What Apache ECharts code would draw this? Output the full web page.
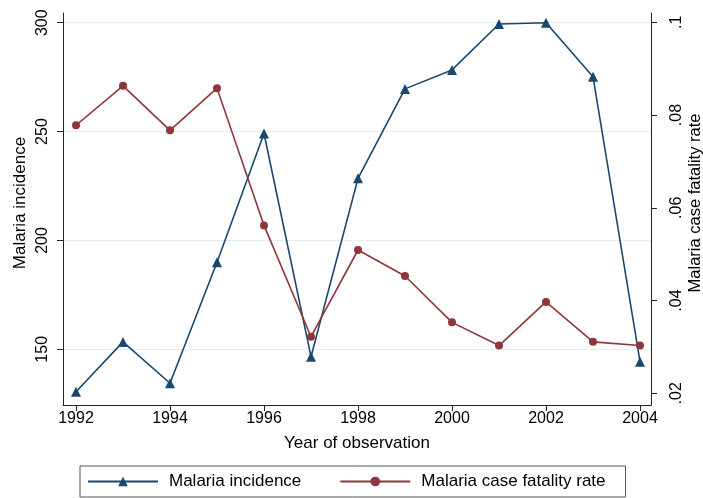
<!DOCTYPE html>
<html>
<head>
<meta charset="utf-8">
<script src="https://cdn.jsdelivr.net/npm/echarts@6/dist/echarts.min.js"></script>
<style>
html,body{margin:0;padding:0;background:#fff;}
#chart{width:703px;height:498px;}
</style>
</head>
<body>
<div id="chart"></div>
<script>
// Data
const years = [1992,1993,1994,1995,1996,1997,1998,1999,2000,2001,2002,2003,2004];
const malariaIncidence = [130.5,153.4,134.4,190.0,249.1,146.6,228.5,269.6,278.3,299.4,300.0,275.2,144.3];
const caseFatalityRate = [0.0778,0.0863,0.0767,0.0858,0.0562,0.0322,0.0509,0.0453,0.0353,0.0303,0.0397,0.0311,0.0303];
const xTicks = [1992,1994,1996,1998,2000,2002,2004];
const leftTicks = [150,200,250,300];
const rightTicks = [0.02,0.04,0.06,0.08,0.1];

const FONT = "'Liberation Sans', Arial, sans-serif";
const axisColor = '#222';

const chart = echarts.init(document.getElementById('chart'), null, {renderer:'canvas'});
chart.setOption({
  animation: false,
  backgroundColor: '#fff',
  textStyle: {fontFamily: FONT},
  grid: {left: 63, right: 52, top: 13, bottom: 93, containLabel: false, outerBoundsMode: 'none'},
  legend: {
    left: 80, top: 466,
    orient: 'horizontal',
    itemWidth: 70, itemHeight: 12, itemGap: 38,
    padding: [7, 20, 7, 7],
    borderColor: '#555', borderWidth: 1,
    textStyle: {fontSize: 17, color: '#000', fontFamily: FONT, padding: [0,0,0,6]},
    data: ['Malaria incidence', 'Malaria case fatality rate']
  },
  xAxis: {
    type: 'value',
    min: 1991.723, max: 2004.234,
    name: 'Year of observation',
    nameLocation: 'middle', nameGap: 30, nameMoveOverlap: false,
    nameTextStyle: {fontSize: 17, color: '#000', fontFamily: FONT},
    axisLine: {show: true, lineStyle: {color: axisColor, width: 1}},
    axisTick: {show: true, length: 6, lineStyle: {color: axisColor}, customValues: xTicks},
    axisLabel: {fontSize: 16, color: '#000', margin: 6, fontFamily: FONT, customValues: xTicks,
      formatter: v => String(v)},
    splitLine: {show: false}
  },
  yAxis: [
    {
      type: 'value', position: 'left',
      min: 124.42, max: 304.45,
      name: 'Malaria incidence', nameLocation: 'middle', nameGap: 34, nameRotate: 90, nameMoveOverlap: false,
      nameTextStyle: {fontSize: 17, color: '#000', fontFamily: FONT, padding: [0,0,0,12]},
      axisLine: {show: true, lineStyle: {color: axisColor, width: 1}},
      axisTick: {show: true, length: 6, lineStyle: {color: axisColor}, customValues: leftTicks},
      axisLabel: {rotate: 90, fontSize: 16, color: '#000', margin: 12, fontFamily: FONT, customValues: leftTicks},
      splitLine: {show: true, lineStyle: {color: '#e4edf1', width: 1.2}}
    },
    {
      type: 'value', position: 'right',
      min: 0.01748, max: 0.102,
      name: 'Malaria case fatality rate', nameLocation: 'middle', nameGap: 36, nameRotate: 90, nameMoveOverlap: false,
      nameTextStyle: {fontSize: 16.5, color: '#000', fontFamily: FONT, padding: [0,0,0,12]},
      axisLine: {show: true, lineStyle: {color: axisColor, width: 1}},
      axisTick: {show: true, length: 6, lineStyle: {color: axisColor}, customValues: rightTicks},
      axisLabel: {rotate: 90, fontSize: 16, color: '#000', margin: 18, fontFamily: FONT, customValues: rightTicks,
        formatter: v => String(+v.toFixed(4)).replace(/^0\./, '.')},
      splitLine: {show: false}
    }
  ],
  series: [
    {
      name: 'Malaria incidence', type: 'line', yAxisIndex: 0,
      data: years.map((y, i) => [y, malariaIncidence[i]]),
      symbol: 'triangle', symbolSize: 10,
      lineStyle: {color: '#1a476f', width: 1.6},
      itemStyle: {color: '#1a476f'},
      z: 2
    },
    {
      name: 'Malaria case fatality rate', type: 'line', yAxisIndex: 1,
      data: years.map((y, i) => [y, caseFatalityRate[i]]),
      symbol: 'circle', symbolSize: 8,
      lineStyle: {color: '#90353b', width: 1.6},
      itemStyle: {color: '#90353b'},
      z: 3
    }
  ]
});
</script>
</body>
</html>
